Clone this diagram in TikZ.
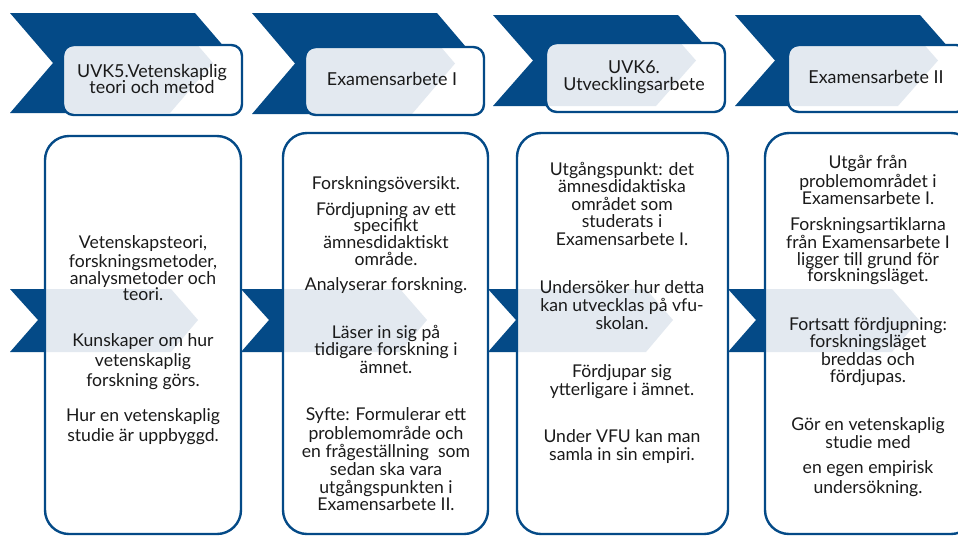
\documentclass[tikz,border=0pt]{standalone}
\usepackage{fontspec}
\setmainfont{Lato}
\definecolor{dblue}{HTML}{044A87}
\definecolor{lblue}{HTML}{E3E9F0}
\definecolor{txtc}{HTML}{1A1A1A}
% top chevron: x0, ytop, ybot, depth
\newcommand\MyTopChev[4]{%
  \fill[dblue] (#1,#2) -- (#1+185,#2) -- (#1+185+#4,{(#2+#3)/2}) -- (#1+185,#3) -- (#1,#3) -- (#1+#4,{(#2+#3)/2}) -- cycle;}
% top box: x0, ytop, ybot, boxtop, boxbot, depth
\newcommand\MyTopBox[6]{%
  \fill[white,rounded corners=8] (#1+53,#4) rectangle (#1+232,#5);
  \begin{scope}
    \clip[rounded corners=8] (#1+53,#4) rectangle (#1+232,#5);
    \fill[lblue] (#1,#2) -- (#1+203-#6,#2) -- (#1+203,{(#2+#3)/2}) -- (#1+203-#6,#3) -- (#1,#3) -- cycle;
  \end{scope}
  \draw[boxline,rounded corners=8] (#1+53,#4) rectangle (#1+232,#5);}
% middle chevron path: xs, xtip
\newcommand\MyMidPath[2]{(#1,289) -- (#2-27,289) -- (#2,320) -- (#2-27,352) -- (#1,352) -- (#1+28,320) -- cycle}
% big box: xl, xr, ytop, xs, xtip
\newcommand\MyBigBox[5]{%
  \fill[white,rounded corners=18] (#1,#3) rectangle (#2,534);
  \begin{scope}
    \clip[rounded corners=18] (#1,#3) rectangle (#2,534);
    \fill[lblue] \MyMidPath{#4}{#5};
  \end{scope}
  \draw[boxline,rounded corners=18] (#1,#3) rectangle (#2,534);}
\begin{document}
\begin{tikzpicture}[x=0.75pt,y=-0.75pt,
  boxline/.style={draw=dblue,line width=1.8pt},
  txt/.style={font=\fontsize{13.2}{14}\selectfont,text=txtc,inner sep=0pt,anchor=base},
  ttl/.style={font=\fontsize{13.4}{14}\selectfont,text=txtc,inner sep=0pt,anchor=base}]
\useasboundingbox (0,0) rectangle (958,537);
\clip (0,0) rectangle (958,537);
\fill[white] (0,0) rectangle (958,537);
% top chevrons
\MyTopChev{10}{13}{113}{43}
\MyTopChev{252}{13}{114}{43}
\MyTopChev{493}{15}{106}{40}
\MyTopChev{735}{15}{106}{40}
% middle chevrons (dark)
\fill[dblue] \MyMidPath{10}{198};
\fill[dblue] \MyMidPath{241}{427};
\fill[dblue] \MyMidPath{488}{673};
\fill[dblue] \MyMidPath{728}{919};
% top boxes
\MyTopBox{10}{13}{113}{45}{115}{43}
\MyTopBox{252}{13}{114}{47}{115}{43}
\MyTopBox{493}{15}{106}{43}{112}{40}
\MyTopBox{735}{15}{106}{45}{112}{40}
% big boxes
\MyBigBox{45}{241}{136}{10}{198}
\MyBigBox{283}{488}{133}{241}{427}
\MyBigBox{517}{728}{133}{488}{673}
\MyBigBox{765}{975}{133}{728}{919}
% titles
\node[ttl] (h1a) at (152,77) {UVK5.Vetenskaplig};
\node[ttl] (h1b) at (152,93) {teori och metod};
\node[ttl] (h2) at (392,85) {Examensarbete I};
\node[ttl] (h3a) at (634,73) {UVK6.};
\node[ttl] (h3b) at (634,90) {Utvecklingsarbete};
\node[ttl] (h4) at (876,83) {Examensarbete II};
% body texts
\foreach \yy/\mytext [count=\i] in {248/{Vetenskapsteori,},267/{forskningsmetoder,},284/{analysmetoder och},300/{teori.},346/{Kunskaper om hur},366/{vetenskaplig},386/{forskning görs.},421/{Hur en vetenskaplig},441/{studie är uppbyggd.}}
  \node[txt] (ba\i) at (143,\yy) {\mytext};
\foreach \yy/\mytext [count=\i] in {189/{Forskningsöversikt.},215/{Fördjupning av ett},231/{specifikt},248/{ämnesdidaktiskt},265/{område.},290/{Analyserar forskning.},338/{Läser in sig på},355/{tidigare forskning i},373/{ämnet.},420/{Syfte: Formulerar ett},439/{problemområde och},457/{en frågeställning\ \ som},475/{sedan ska vara},493/{utgångspunkten i},510/{Examensarbete II.}}
  \node[txt] (bb\i) at (386,\yy) {\mytext};
\foreach \yy/\mytext [count=\i] in {175/{Utgångspunkt: det},192/{ämnesdidaktiska},210/{området som},227/{studerats i},245/{Examensarbete I.},293/{Undersöker hur detta},311/{kan utvecklas på vfu-},329/{skolan.},377/{Fördjupar sig},395/{ytterligare i ämnet.},442/{Under VFU kan man},460/{samla in sin empiri.}}
  \node[txt] (bc\i) at (622,\yy) {\mytext};
\foreach \yy/\mytext [count=\i] in {168/{Utgår från},187/{problemområdet i},204/{Examensarbete I.},230/{Forskningsartiklarna},248/{från Examensarbete I},265/{ligger till grund för},281/{forskningsläget.},330/{Fortsatt fördjupning:},347/{forskningsläget},365/{breddas och},382/{fördjupas.},430/{Gör en vetenskaplig},448/{studie med},473/{en egen empirisk},493/{undersökning.}}
  \node[txt] (bd\i) at (868,\yy) {\mytext};
\end{tikzpicture}
\end{document}
